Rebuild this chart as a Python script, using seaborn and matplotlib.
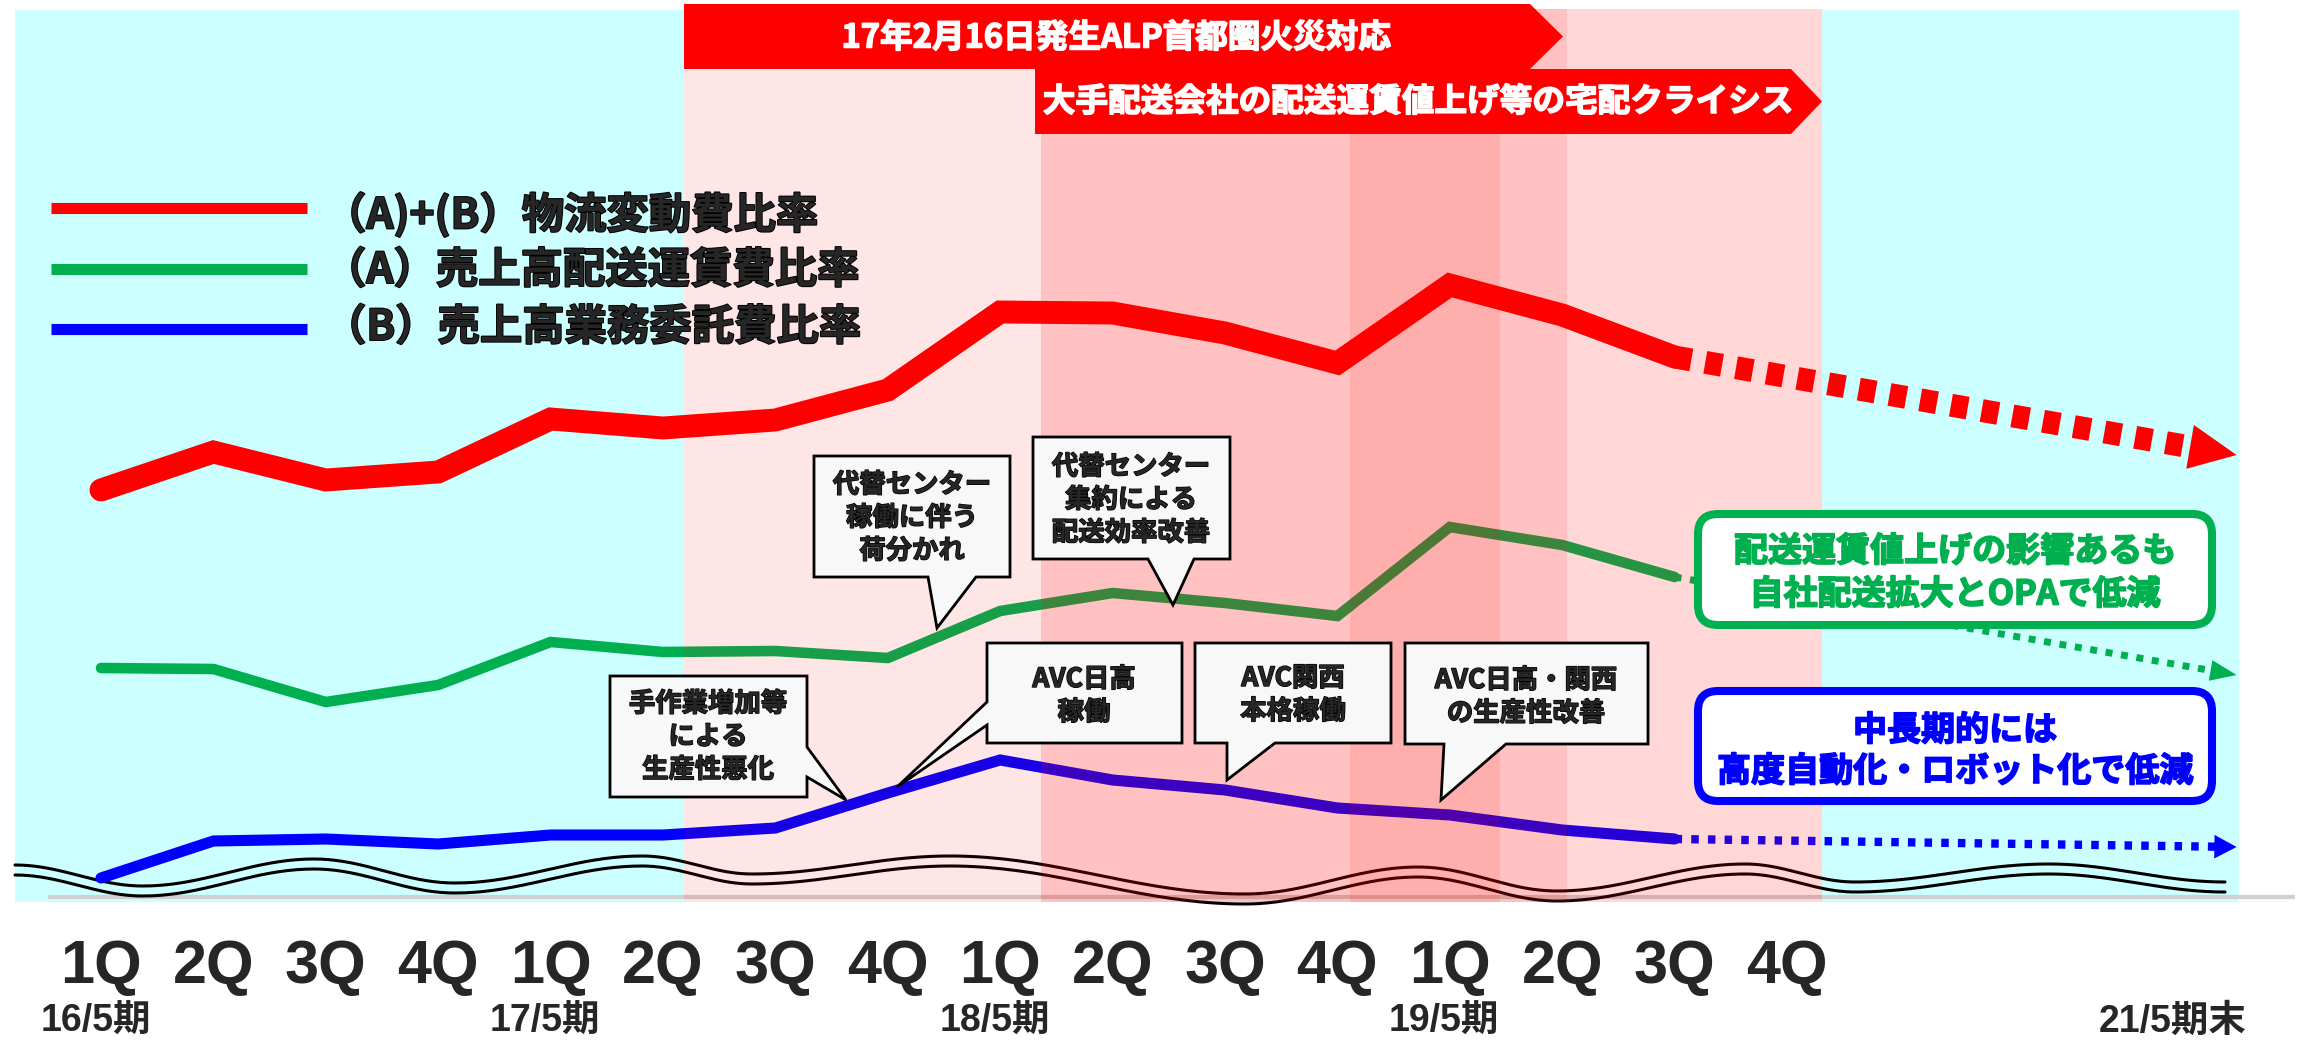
import numpy as np
import pandas as pd
import matplotlib
matplotlib.use("Agg")
import matplotlib.pyplot as plt
import seaborn as sns
from matplotlib.patches import Polygon, Rectangle, FancyBboxPatch, FancyArrowPatch, ArrowStyle
from matplotlib.lines import Line2D
import matplotlib.patheffects as pe

# ---------------- data ----------------
quarter_labels = ["1Q", "2Q", "3Q", "4Q"] * 4
fiscal_labels = ["16/5期", "17/5期", "18/5期", "19/5期"]
target_label = "21/5期末"

series_names = ["（A)+(B）物流変動費比率", "（A）売上高配送運賃費比率", "（B）売上高業務委託費比率"]
# relative index values (no y axis shown)
logistics_ratio = [5.52, 5.90, 5.62, 5.70, 6.23, 6.14, 6.22, 6.52, 7.30, 7.29, 7.09, 6.79, 7.57, 7.27, 6.85]
delivery_ratio = [3.74, 3.73, 3.40, 3.57, 4.00, 3.90, 3.91, 3.84, 4.31, 4.49, 4.39, 4.26, 5.15, 4.97, 4.65]
outsourcing_ratio = [1.64, 2.01, 2.03, 1.98, 2.07, 2.07, 2.14, 2.49, 2.82, 2.62, 2.52, 2.34, 2.27, 2.12, 2.03]
target_values = [5.87, 3.67, 1.95]   # projected level at 21/5期末

band_labels = ["17年2月16日発生ALP首都圏火災対応", "大手配送会社の配送運賃値上げ等の宅配クライシス"]
callout_texts = [
    ["代替センター", "稼働に伴う", "荷分かれ"],
    ["代替センター", "集約による", "配送効率改善"],
    ["手作業増加等", "による", "生産性悪化"],
    ["AVC日高", "稼働"],
    ["AVC関西", "本格稼働"],
    ["AVC日高・関西", "の生産性改善"],
]
note_green = ["配送運賃値上げの影響あるも", "自社配送拡大とOPAで低減"]
note_blue = ["中長期的には", "高度自動化・ロボット化で低減"]

# ---------------- layout ----------------
W, H = 2301, 1042
X0, DX = 101.0, 112.4      # pixel of first quarter, pixels per quarter
VS = 100.0                 # pixels per value unit
X_TARGET = 19.0            # position of projection arrows (quarter units)

RED, GREEN, BLUE = "#FF0000", "#00B050", "#0000FF"
CYAN = "#CCFFFF"
JP = ["Noto Sans CJK JP", "DejaVu Sans"]
LAT = ["Liberation Sans", "Noto Sans CJK JP", "DejaVu Sans"]

def heavy(color, w=1.1):
    return [pe.withStroke(linewidth=w, foreground=color)]

sns.set_style("white")
plt.rcParams["font.family"] = JP

fig = plt.figure(figsize=(W / 100, H / 100), dpi=100)
fig.patch.set_facecolor("white")

def pix_axes(z):
    a = fig.add_axes([0, 0, 1, 1], zorder=z)
    a.set_xlim(0, W)
    a.set_ylim(H, 0)
    a.axis("off")
    a.patch.set_visible(False)
    return a

ax_bg = pix_axes(0)
ax = fig.add_axes([0, 0, 1, 1], zorder=1)
ax.set_xlim(-X0 / DX, (W - X0) / DX)
ax.set_ylim(0, H / VS)
ax.axis("off")
ax.patch.set_visible(False)
ax_ov = pix_axes(2)

# ---------- background ----------
ax_bg.add_patch(Rectangle((15, 10), 684 - 15, 892, facecolor=CYAN, edgecolor="none"))
ax_bg.add_patch(Rectangle((1822, 10), 2239 - 1822, 892, facecolor=CYAN, edgecolor="none"))
ax_bg.plot([48, 2295], [897, 897], color="#D0D0D0", lw=3, solid_capstyle="butt")

# wavy break lines
wave_x = [15, 143, 314, 455, 642, 752, 950, 1245, 1418, 1557, 1745, 1855, 2049, 2225]
wave_y = [865, 886, 859, 883, 856, 874, 856, 894, 867, 891, 864, 882, 864, 882]
xs, ys = [], []
for k in range(len(wave_x) - 1):
    t = np.linspace(0, 1, 40)
    xs.append(wave_x[k] + (wave_x[k + 1] - wave_x[k]) * t)
    ys.append(wave_y[k] + (wave_y[k + 1] - wave_y[k]) * (1 - np.cos(np.pi * t)) / 2)
xs = np.concatenate(xs); ys = np.concatenate(ys)
ax_bg.plot(xs, ys, color="black", lw=2.2)
ax_bg.plot(xs, ys + 10, color="black", lw=2.2)

# ---------- data lines ----------
qx = np.arange(len(logistics_ratio))
df = pd.DataFrame({"q": qx, "red": logistics_ratio, "green": delivery_ratio, "blue": outsourcing_ratio})
styles = [
    ("red", RED, 16.5, (0.74, 0.62), 34.0, 16.0),
    ("green", GREEN, 7.6, (1.0, 1.25), 19.0, 7.5),
    ("blue", BLUE, 8.0, (0.9, 1.1), 16.0, 8.5),
]
for (col, color, lw, dash, hl, hw), tv, dlw in zip(styles, target_values, [16.5, 5.0, 6.0]):
    sns.lineplot(data=df, x="q", y=col, ax=ax, color=color, lw=lw,
                 solid_capstyle="round", solid_joinstyle="miter", zorder=3, legend=False)
    x0, y0 = qx[-1], df[col].iloc[-1]
    x1, y1 = X_TARGET, tv
    Lpx = np.hypot((x1 - x0) * DX, (y1 - y0) * VS)
    f = 1 - (hl * 1.389 * 0.85) / Lpx
    xe, ye = x0 + (x1 - x0) * f, y0 + (y1 - y0) * f
    sns.lineplot(x=[x0, xe], y=[y0, ye], ax=ax, color=color, lw=dlw,
                 linestyle=(0, dash), zorder=3, legend=False)
    ax.add_patch(FancyArrowPatch((xe, ye), (x1, y1),
                                 arrowstyle=ArrowStyle("-|>", head_length=hl, head_width=hw),
                                 mutation_scale=1, color=color, lw=0, shrinkA=0, shrinkB=0, zorder=4))
ax.set_xlim(-X0 / DX, (W - X0) / DX)
ax.set_ylim(0, H / VS)
ax.axis("off")

# x labels
for i, lab in enumerate(quarter_labels):
    ax.text(i, (H - 968) / VS, lab, ha="center", va="center", fontsize=44,
            fontweight="bold", family=LAT)
for k, lab in enumerate(fiscal_labels):
    ax.text(4 * k - 0.05, (H - 1022) / VS, lab, ha="center", va="center", fontsize=27,
            fontweight="bold", family=LAT)
ax.text(18.43, (H - 1022) / VS, target_label, ha="center", va="center", fontsize=27,
        fontweight="bold", family=LAT)

# ---------- translucent event overlays ----------
ax_ov.add_patch(Rectangle((684, 9), 1567 - 684, 893, facecolor=RED, alpha=0.098, edgecolor="none", zorder=1))
ax_ov.add_patch(Rectangle((1041, 9), 1822 - 1041, 893, facecolor=RED, alpha=0.157, edgecolor="none", zorder=1))
ax_ov.add_patch(Rectangle((1350, 9), 150, 893, facecolor=RED, alpha=0.095, edgecolor="none", zorder=1))

# banners
ax_ov.add_patch(Polygon([(684, 4), (1530, 4), (1563, 36.5), (1530, 69), (684, 69)],
                        closed=True, facecolor=RED, edgecolor="none", zorder=5))
ax_ov.add_patch(Polygon([(1035, 69), (1791, 69), (1822, 101.5), (1791, 134), (1035, 134)],
                        closed=True, facecolor=RED, edgecolor="none", zorder=5))
ax_ov.text(1116, 38, band_labels[0], color="white", fontsize=23.5, fontweight="bold",
           ha="center", va="center", zorder=6, path_effects=heavy("white"))
ax_ov.text(1418, 102, band_labels[1], color="white", fontsize=23.5, fontweight="bold",
           ha="center", va="center", zorder=6, path_effects=heavy("white"))

# legend
for (name, color), yl, yt in zip(zip(series_names, [RED, GREEN, BLUE]), [208, 269, 329], [215, 271, 328]):
    ax_ov.add_line(Line2D([51, 307], [yl, yl], color=color, lw=8, solid_capstyle="butt", zorder=4))
    ax_ov.text(324, yt, name, fontsize=30.5, fontweight="bold", ha="left", va="center", zorder=4,
               path_effects=heavy("black", 1.4))

# callouts: box polygon with tail
callout_shapes = [
    [(814, 456), (1010, 456), (1010, 577), (976, 577), (937, 628), (928, 577), (814, 577)],
    [(1033, 437), (1230, 437), (1230, 559), (1194, 559), (1173, 605), (1148, 559), (1033, 559)],
    [(610, 676), (807, 676), (807, 747), (846, 800), (807, 777), (807, 797), (610, 797)],
    [(987, 643), (1182, 643), (1182, 743), (987, 743), (987, 725), (897, 787), (987, 702)],
    [(1195, 643), (1391, 643), (1391, 743), (1275, 743), (1227, 780), (1227, 743), (1195, 743)],
    [(1405, 643), (1648, 643), (1648, 744), (1506, 744), (1441, 800), (1444, 744), (1405, 744)],
]
callout_centers = [(912, 518), (1131, 500), (708, 737), (1084, 696), (1293, 695), (1526, 697)]
for shape, lines, (cx, cy) in zip(callout_shapes, callout_texts, callout_centers):
    ax_ov.add_patch(Polygon(shape, closed=True, facecolor="#F8F8F8", edgecolor="black",
                            lw=2.0, joinstyle="miter", zorder=3))
    n = len(lines)
    for j, t in enumerate(lines):
        ax_ov.text(cx, cy + (j - (n - 1) / 2) * 33, t, fontsize=19, fontweight="bold",
                   ha="center", va="center", zorder=4, path_effects=heavy("black", 1.0))

# note boxes
for (y0, y1), color, lines, ys_ in [((514, 625), GREEN, note_green, (551, 594)),
                                    ((691, 801), BLUE, note_blue, (730, 771))]:
    ax_ov.add_patch(FancyBboxPatch((1698, y0), 2212 - 1698, y1 - y0,
                                   boxstyle="round,pad=0,rounding_size=20",
                                   facecolor="white", edgecolor=color, lw=5.8, zorder=3))
    for t, yy in zip(lines, ys_):
        ax_ov.text(1955, yy, t, color=color, fontsize=24.5, fontweight="bold",
                   ha="center", va="center", zorder=4, path_effects=heavy(color, 1.2))

fig.savefig("out.png", dpi=100, facecolor="white")
